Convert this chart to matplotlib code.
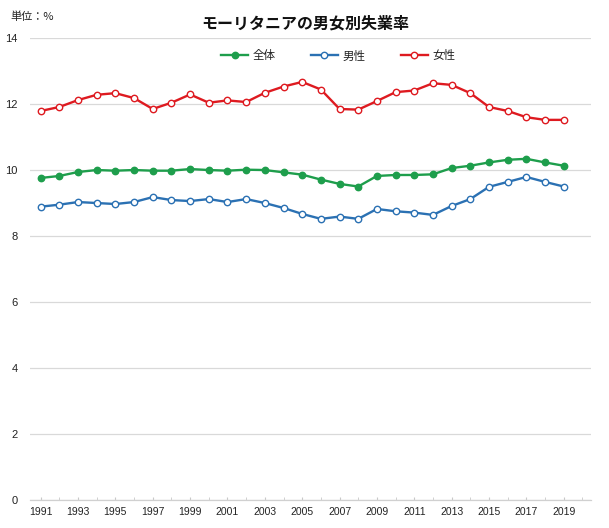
import matplotlib
matplotlib.use("Agg")
import matplotlib.pyplot as plt
from matplotlib.ticker import FixedLocator, MultipleLocator

plt.rcParams['font.family'] = ['Noto Sans CJK JP', 'DejaVu Sans']

years = list(range(1991, 2020))
total = [9.75, 9.81, 9.93, 9.99, 9.97, 9.99, 9.97, 9.97, 10.02, 9.99, 9.97, 10.00, 9.99, 9.92,
         9.85, 9.70, 9.57, 9.49, 9.81, 9.84, 9.84, 9.86, 10.05, 10.12, 10.22, 10.30, 10.33, 10.22, 10.12]
male = [8.88, 8.94, 9.02, 8.99, 8.96, 9.02, 9.17, 9.08, 9.05, 9.11, 9.02, 9.11, 8.99, 8.84,
        8.66, 8.51, 8.58, 8.51, 8.81, 8.74, 8.70, 8.63, 8.90, 9.11, 9.48, 9.63, 9.78, 9.63, 9.49]
female = [11.78, 11.90, 12.11, 12.27, 12.32, 12.17, 11.84, 12.03, 12.28, 12.03, 12.10, 12.05, 12.33, 12.52,
          12.66, 12.43, 11.84, 11.82, 12.08, 12.35, 12.40, 12.62, 12.57, 12.32, 11.90, 11.78, 11.59, 11.51, 11.51]
series_names = ['全体', '男性', '女性']
title = 'モーリタニアの男女別失業率'
unit_label = '単位：%'

fig = plt.figure(figsize=(6.09, 5.28), dpi=100)
ax = fig.add_axes([30/609, 1 - 499.7/528, (591-30)/609, (499.7-37.7)/528])

green = '#1e9e4c'
blue = '#2b71b3'
red = '#de1a20'

lw = 1.7
ms = 4.6
ax.plot(years, total, color=green, lw=lw, marker='o', ms=ms, mfc=green, mec=green, mew=1.0,
        label=series_names[0], zorder=3)
ax.plot(years, male, color=blue, lw=lw, marker='o', ms=ms, mfc='white', mec=blue, mew=1.0,
        label=series_names[1], zorder=3)
ax.plot(years, female, color=red, lw=lw, marker='o', ms=ms, mfc='white', mec=red, mew=1.0,
        label=series_names[2], zorder=3)

ax.set_xlim(1990.43, 2020.46)
ax.set_ylim(0, 14)
ax.yaxis.set_major_locator(MultipleLocator(2))
ax.xaxis.set_major_locator(FixedLocator(list(range(1991, 2020, 2))))
ax.xaxis.set_minor_locator(FixedLocator(list(range(1991, 2021))))
ax.grid(axis='y', color='#d9d9d9', lw=0.9)
ax.set_axisbelow(True)
for s in ['top', 'right', 'left']:
    ax.spines[s].set_visible(False)
ax.spines['bottom'].set_color('#d0d0d0')
ax.spines['bottom'].set_linewidth(0.9)
ax.tick_params(axis='y', length=0, pad=9, labelsize=8, labelcolor='#222222')
ax.tick_params(axis='x', which='both', direction='in', length=2.5, color='#c8c8c8',
               pad=5, labelsize=7.5, labelcolor='#222222')
ax.tick_params(axis='x', which='minor', labelbottom=False)
for lab in ax.get_xticklabels() + ax.get_yticklabels():
    lab.set_family(['Liberation Sans', 'DejaVu Sans'])

fig.text(305/609, 1 - 23/528, title, ha='center', va='center', fontsize=11.5,
         fontweight='bold', color='#111111')
fig.text(10/609, 1 - 17/528, unit_label, ha='left', va='center', fontsize=8, color='#222222')

leg = fig.legend(loc='center', bbox_to_anchor=(338/609, 1 - 56/528), ncol=3, frameon=False,
                 fontsize=8.3, handlelength=2.35, handletextpad=0.35, columnspacing=3.1)
for t in leg.get_texts():
    t.set_color('#222222')

fig.savefig('out.png', dpi=100)
